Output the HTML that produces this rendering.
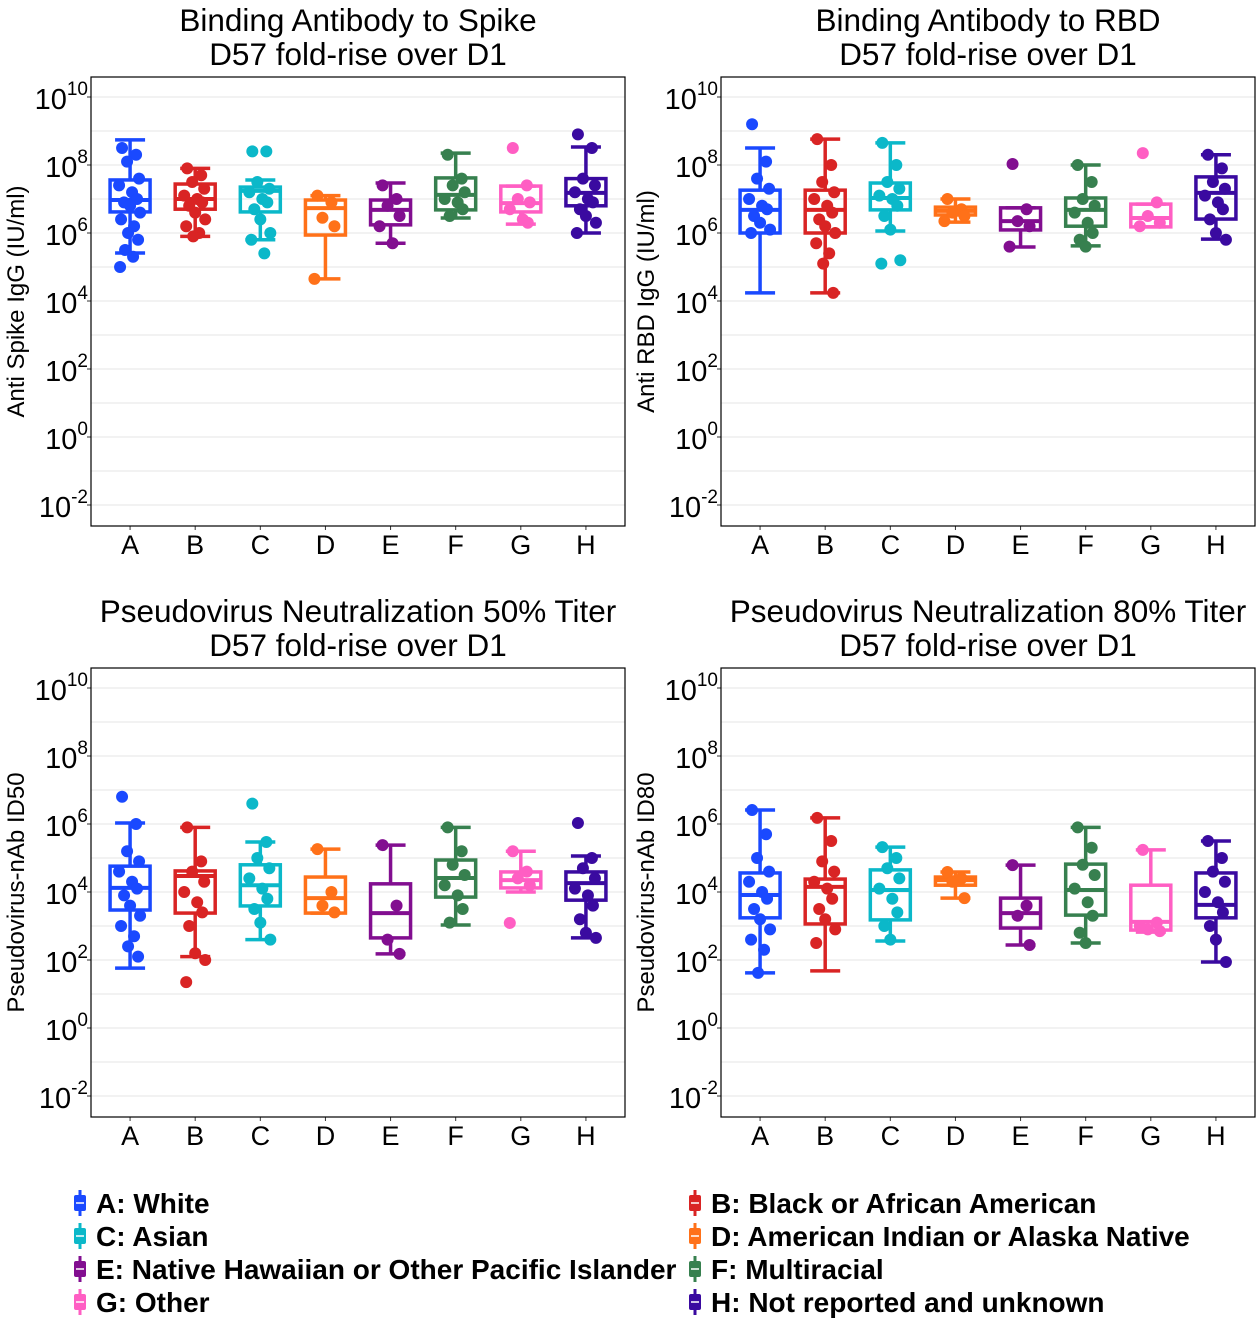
<!DOCTYPE html>
<html><head><meta charset="utf-8"><style>
html,body{margin:0;padding:0;background:#fff;}
svg{display:block;font-family:"Liberation Sans",sans-serif;}
</style></head><body>
<svg id="chart" width="1260" height="1320" xmlns="http://www.w3.org/2000/svg"></svg>
<script>
const categories = ["A","B","C","D","E","F","G","H"];
const colors = ["#1a49ff","#d92424","#0bb8c9","#ff7119","#820e90","#37804f","#ff5ec3","#3a0aa0"];
const legendLabels = ["A: White","B: Black or African American","C: Asian","D: American Indian or Alaska Native","E: Native Hawaiian or Other Pacific Islander","F: Multiracial","G: Other","H: Not reported and unknown"];
const yTicks = [10,8,6,4,2,0,-2];
const panelTitles = [["Binding Antibody to Spike","D57 fold-rise over D1"],["Binding Antibody to RBD","D57 fold-rise over D1"],["Pseudovirus Neutralization 50% Titer","D57 fold-rise over D1"],["Pseudovirus Neutralization 80% Titer","D57 fold-rise over D1"]];
const yTitles = ["Anti Spike IgG (IU/ml)","Anti RBD IgG (IU/ml)","Pseudovirus-nAb ID50","Pseudovirus-nAb ID80"];
// log10 stats per group: [whiskerLow, q1, median, q3, whiskerHigh]
const stats1 = [[5.41,6.62,6.97,7.56,8.74],[5.9,6.7,7.0,7.44,7.9],[5.8,6.62,7.24,7.35,7.56],[4.65,5.94,6.73,6.97,7.1],[5.7,6.24,6.68,6.97,7.47],[6.44,6.68,7.12,7.62,8.35],[6.26,6.62,6.88,7.38,7.38],[6.0,6.8,7.18,7.6,8.53]];
const stats2 = [[4.24,6.0,6.68,7.26,8.5],[4.24,6.0,6.68,7.26,8.76],[6.06,6.68,7.03,7.47,8.65],[6.32,6.53,6.65,6.76,7.0],[5.59,6.09,6.35,6.74,6.74],[5.62,6.2,6.68,7.03,8.0],[6.18,6.18,6.44,6.85,6.85],[5.82,6.41,7.18,7.65,8.3]];
const stats3 = [[1.76,3.47,4.12,4.76,6.03],[2.1,3.38,4.47,4.62,5.9],[2.6,3.59,4.2,4.8,5.47],[3.38,3.38,3.82,4.44,5.26],[2.18,2.65,3.38,4.24,5.38],[3.03,3.85,4.41,4.94,5.9],[4.0,4.12,4.35,4.59,5.2],[2.65,3.76,4.26,4.59,5.06]];
const stats4 = [[1.62,3.24,3.91,4.56,6.41],[1.68,3.06,4.15,4.38,6.18],[2.56,3.18,4.06,4.65,5.32],[3.82,4.2,4.35,4.44,4.59],[2.44,2.94,3.38,3.82,4.79],[2.5,3.32,4.06,4.82,5.9],[2.82,2.88,3.12,4.2,5.24],[1.94,3.24,3.62,4.56,5.5]];
const points1 = [[8.5,8.3,8.1,7.6,7.4,7.2,7.0,6.9,6.8,6.6,6.4,6.2,6.0,5.8,5.5,5.3,5.0],[7.9,7.7,7.5,7.3,7.1,7.0,6.9,6.8,6.6,6.4,6.2,6.0,5.9],[8.4,8.4,7.5,7.3,7.2,7.0,6.9,6.7,6.4,6.0,5.8,5.4],[7.1,6.9,6.45,6.2,4.65],[7.4,7.0,6.8,6.5,6.2,5.7],[8.3,7.6,7.4,7.2,7.0,6.9,6.7,6.5],[8.5,7.4,7.0,6.9,6.7,6.4,6.3],[8.9,8.5,7.6,7.4,7.2,7.0,6.9,6.7,6.5,6.3,6.0]];
const points2 = [[9.2,8.1,7.6,7.3,7.0,6.8,6.7,6.5,6.3,6.1,6.0],[8.76,8.0,7.5,7.2,7.0,6.8,6.6,6.4,6.2,6.0,5.7,5.4,5.1,4.24],[8.65,8.0,7.5,7.3,7.1,7.0,6.8,6.5,6.1,5.2,5.1],[7.0,6.7,6.6,6.5,6.35],[8.03,6.7,6.35,6.2,5.6],[8.0,7.5,7.0,6.8,6.6,6.3,6.0,5.8,5.6],[8.35,6.9,6.5,6.3,6.2],[8.3,7.9,7.5,7.3,7.1,6.9,6.7,6.4,6.0,5.8]];
const points3 = [[6.8,6.0,5.2,4.9,4.6,4.3,4.1,3.9,3.6,3.3,3.0,2.7,2.4,2.1],[5.9,4.9,4.6,4.3,4.0,3.7,3.4,3.0,2.2,2.0,1.35],[6.6,5.47,5.0,4.7,4.4,4.1,3.8,3.5,3.1,2.6],[5.26,4.0,3.6,3.4],[5.38,3.6,2.6,2.18],[5.9,5.2,4.8,4.5,4.2,3.9,3.5,3.1],[5.2,4.6,4.4,4.2,3.09],[6.03,5.0,4.7,4.4,4.1,3.9,3.6,3.2,2.8,2.65]];
const points4 = [[6.41,5.7,5.0,4.6,4.3,4.0,3.8,3.5,3.2,2.9,2.6,2.3,1.62],[6.18,5.5,4.9,4.6,4.3,4.1,3.8,3.5,3.2,2.9,2.5],[5.32,5.0,4.7,4.4,4.1,3.8,3.4,3.0,2.6],[4.59,4.4,4.3,3.82],[4.79,3.6,3.3,2.44],[5.9,5.3,4.8,4.5,4.1,3.7,3.3,2.8,2.5],[5.24,3.1,2.9,2.85,3.0],[5.5,5.0,4.6,4.3,4.0,3.7,3.4,3.0,2.6,1.94]];

const allStats=[stats1,stats2,stats3,stats4];
const allPoints=[points1,points2,points3,points4];
const NS="http://www.w3.org/2000/svg";
const svg=document.getElementById('chart');
function mk(tag,attrs,parent){const e=document.createElementNS(NS,tag);for(const k in attrs)e.setAttribute(k,attrs[k]);(parent||svg).appendChild(e);return e;}
const jit=[-8,6,-3,9,-11,2,7,-6,0,10,-9,4,-2,8,-5,3,-10];
const panels=[{x:91,y:77},{x:721,y:77},{x:91,y:668},{x:721,y:668}];
const PW=534,PH=449;
panels.forEach((p,pi)=>{
  const g=mk('g',{});
  
  
  const yS=v=>p.y+20+34*(10-v);
  const xS=i=>p.x+PW*(i+0.6)/8.2;
  for(let d=-3;d<=10;d++){const yy=yS(d);if(yy<p.y||yy>p.y+PH)continue;
    const l=mk('line',{x1:p.x,x2:p.x+PW,y1:yy,y2:yy,stroke:'#ebebeb','stroke-width':1.2},g);
    
    }
  const cx=p.x+PW/2;
  panelTitles[pi].forEach((t,li)=>{const tt=mk('text',{x:cx,y:p.y-46+li*34,'text-anchor':'middle','font-size':31.5,fill:'#000'},g);tt.textContent=t;
    
    });
  yTicks.forEach(v=>{const yy=yS(v);
    mk('line',{x1:p.x-4,x2:p.x,y1:yy,y2:yy,stroke:'#333','stroke-width':1},g);
    const t=mk('text',{x:p.x-3,y:yy+12,'text-anchor':'end','font-size':29,fill:'#000'},g);
    
    
    const a=mk('tspan',{},t);a.textContent='10';
    const b=mk('tspan',{dy:-14,'font-size':19},t);b.textContent=String(v);
  });
  const yt=mk('text',{x:0,y:0,transform:`translate(${p.x-67},${p.y+PH/2}) rotate(-90)`,'text-anchor':'middle','font-size':24,fill:'#000'},g);
  yt.textContent=yTitles[pi];
  
  
  categories.forEach((c,i)=>{
    const s=allStats[pi][i],col=colors[i],x=xS(i);
    const bg=mk('g',{},g);
    
    
    const sw=3.5;
    mk('line',{x1:x,x2:x,y1:yS(s[0]),y2:yS(s[1]),stroke:col,'stroke-width':sw},bg);
    mk('line',{x1:x,x2:x,y1:yS(s[3]),y2:yS(s[4]),stroke:col,'stroke-width':sw},bg);
    mk('line',{x1:x-15,x2:x+15,y1:yS(s[0]),y2:yS(s[0]),stroke:col,'stroke-width':sw},bg);
    mk('line',{x1:x-15,x2:x+15,y1:yS(s[4]),y2:yS(s[4]),stroke:col,'stroke-width':sw},bg);
    mk('rect',{x:x-20,y:yS(s[3]),width:40,height:Math.max(1,yS(s[1])-yS(s[3])),fill:'none',stroke:col,'stroke-width':sw},bg);
    mk('line',{x1:x-20,x2:x+20,y1:yS(s[2]),y2:yS(s[2]),stroke:col,'stroke-width':4},bg);
    allPoints[pi][i].forEach((v,k)=>{
      const pt=mk('circle',{cx:x+jit[k%jit.length],cy:yS(v),r:6,fill:col},bg);
      
      
    });
    const xl=mk('text',{x:x,y:p.y+PH+28,'text-anchor':'middle','font-size':27,fill:'#000'},g);
    xl.textContent=c;
    
    
    mk('line',{x1:x,x2:x,y1:p.y+PH,y2:p.y+PH+4,stroke:'#333','stroke-width':1},g);
  });
  const fr=mk('rect',{x:p.x,y:p.y,width:PW,height:PH,fill:'none',stroke:'#000','stroke-width':1.2},g);
  
  
});
const lg=mk('g',{});


legendLabels.forEach((lab,i)=>{
  const colX=i%2===0?72:687, row=Math.floor(i/2), by=1203+row*33;
  const e=mk('g',{},lg);
  
  
  mk('line',{x1:colX+8,x2:colX+8,y1:by-13,y2:by+13,stroke:colors[i],'stroke-width':3},e);
  mk('rect',{x:colX+2,y:by-8,width:12,height:16,rx:2,fill:colors[i]},e);
  mk('line',{x1:colX+4,x2:colX+12,y1:by,y2:by,stroke:'#fff','stroke-width':1.5},e);
  const t=mk('text',{x:colX+24,y:by+10,'font-size':28,'font-weight':'bold',fill:'#000'},e);
  t.textContent=lab;
});
</script>
</body></html>
